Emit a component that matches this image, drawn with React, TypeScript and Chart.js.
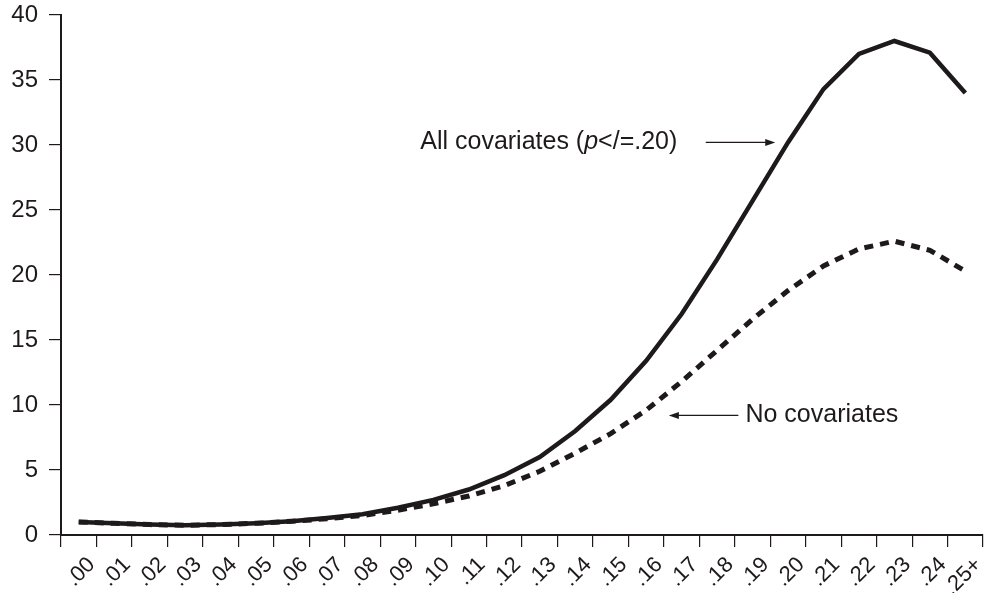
import React, { useEffect, useRef } from "react";
import { Chart, registerables } from "chart.js";

Chart.register(...registerables);

const categories = [
  ".00", ".01", ".02", ".03", ".04", ".05", ".06", ".07", ".08", ".09",
  ".10", ".11", ".12", ".13", ".14", ".15", ".16", ".17", ".18", ".19",
  ".20", ".21", ".22", ".23", ".24", ".25+",
];

const allCovariates = [
  1.0, 0.9, 0.8, 0.75, 0.8, 0.9, 1.05, 1.3, 1.6, 2.1,
  2.7, 3.5, 4.6, 6.0, 8.0, 10.4, 13.4, 17.0, 21.2, 25.7,
  30.2, 34.3, 37.0, 38.0, 37.1, 34.0,
];

const noCovariates = [
  1.0, 0.9, 0.8, 0.75, 0.8, 0.9, 1.05, 1.25, 1.5, 1.9,
  2.4, 3.0, 3.8, 4.9, 6.3, 7.8, 9.6, 11.8, 14.2, 16.6,
  18.8, 20.7, 22.0, 22.6, 21.9, 20.3,
];

const yMin = 0;
const yMax = 40;
const yStep = 5;

const INK = "#1e1a1b";
const FONT = "'Liberation Sans', Arial, sans-serif";

function drawArrow(ctx: CanvasRenderingContext2D, x1: number, y1: number, x2: number, y2: number) {
  const dir = Math.sign(x2 - x1) || 1;
  ctx.save();
  ctx.strokeStyle = INK;
  ctx.fillStyle = INK;
  ctx.lineWidth = 1.2;
  ctx.beginPath();
  ctx.moveTo(x1, y1);
  ctx.lineTo(x2 - dir * 6, y2);
  ctx.stroke();
  ctx.beginPath();
  ctx.moveTo(x2, y2);
  ctx.lineTo(x2 - dir * 10, y2 - 3.5);
  ctx.lineTo(x2 - dir * 10, y2 + 3.5);
  ctx.closePath();
  ctx.fill();
  ctx.restore();
}

const annotationPlugin = {
  id: "curveLabels",
  afterDraw(chart: any) {
    const ctx: CanvasRenderingContext2D = chart.ctx;
    const xs = chart.scales.x;
    const ys = chart.scales.y;
    ctx.save();
    ctx.fillStyle = INK;
    ctx.textBaseline = "middle";

    // "All covariates (p</=.20)" label with arrow toward the solid curve
    const y1 = ys.getPixelForValue(30.2);
    const parts = [
      { t: "All covariates (", f: `25px ${FONT}` },
      { t: "p", f: `italic 25px ${FONT}` },
      { t: "</=.20)", f: `25px ${FONT}` },
    ];
    let cx = xs.getPixelForValue(9.63);
    ctx.textAlign = "left";
    for (const p of parts) {
      ctx.font = p.f;
      ctx.fillText(p.t, cx, y1);
      cx += ctx.measureText(p.t).width;
    }
    drawArrow(ctx, xs.getPixelForValue(17.68), y1, xs.getPixelForValue(19.64), y1);

    // "No covariates" label with arrow toward the dashed curve
    const y2 = ys.getPixelForValue(9.2);
    ctx.font = `25px ${FONT}`;
    ctx.textAlign = "left";
    ctx.fillText("No covariates", xs.getPixelForValue(18.8), y2);
    drawArrow(ctx, xs.getPixelForValue(18.6), y2, xs.getPixelForValue(16.64), y2);

    ctx.restore();
  },
};

export default function App() {
  const canvasRef = useRef<HTMLCanvasElement | null>(null);

  useEffect(() => {
    document.body.style.margin = "0";
    const canvas = canvasRef.current;
    if (!canvas) return;
    const chart = new Chart(canvas, {
      type: "line",
      data: {
        labels: categories,
        datasets: [
          {
            label: "No covariates",
            data: noCovariates,
            borderColor: INK,
            borderWidth: 5,
            borderDash: [9, 7],
            pointRadius: 0,
            tension: 0,
            fill: false,
          },
          {
            label: "All covariates (p</=.20)",
            data: allCovariates,
            borderColor: INK,
            borderWidth: 4.5,
            pointRadius: 0,
            tension: 0,
            fill: false,
          },
        ],
      },
      options: {
        animation: false,
        responsive: false,
        maintainAspectRatio: false,
        layout: { padding: { top: 0, left: 0, right: 0, bottom: 0 } },
        plugins: {
          legend: { display: false },
          tooltip: { enabled: false },
          title: { display: false },
        },
        scales: {
          x: {
            type: "category",
            offset: true,
            afterFit: (scale: any) => {
              scale.height = 58;
            },
            grid: {
              display: true,
              offset: true,
              drawOnChartArea: false,
              drawTicks: true,
              tickLength: 12,
              color: INK,
              lineWidth: 1.2,
            },
            border: { display: true, color: INK, width: 2 },
            ticks: {
              color: INK,
              font: { family: FONT, size: 22 },
              minRotation: 45,
              maxRotation: 45,
              autoSkip: false,
              padding: 5,
              labelOffset: 13,
            },
          },
          y: {
            min: yMin,
            max: yMax,
            afterFit: (scale: any) => {
              scale.width = 61;
              scale.paddingTop = 15;
              scale.paddingBottom = 0;
            },
            grid: {
              display: true,
              drawOnChartArea: false,
              drawTicks: true,
              tickLength: 12,
              color: INK,
              lineWidth: 1.2,
            },
            border: { display: true, color: INK, width: 2 },
            ticks: {
              stepSize: yStep,
              color: INK,
              font: { family: FONT, size: 24 },
              padding: 11,
            },
          },
        },
      },
      plugins: [annotationPlugin],
    });
    return () => chart.destroy();
  }, []);

  return (
    <div style={{ width: 989, height: 593, overflow: "hidden", background: "#fff" }}>
      <canvas ref={canvasRef} width={989} height={593} style={{ display: "block" }} />
    </div>
  );
}
